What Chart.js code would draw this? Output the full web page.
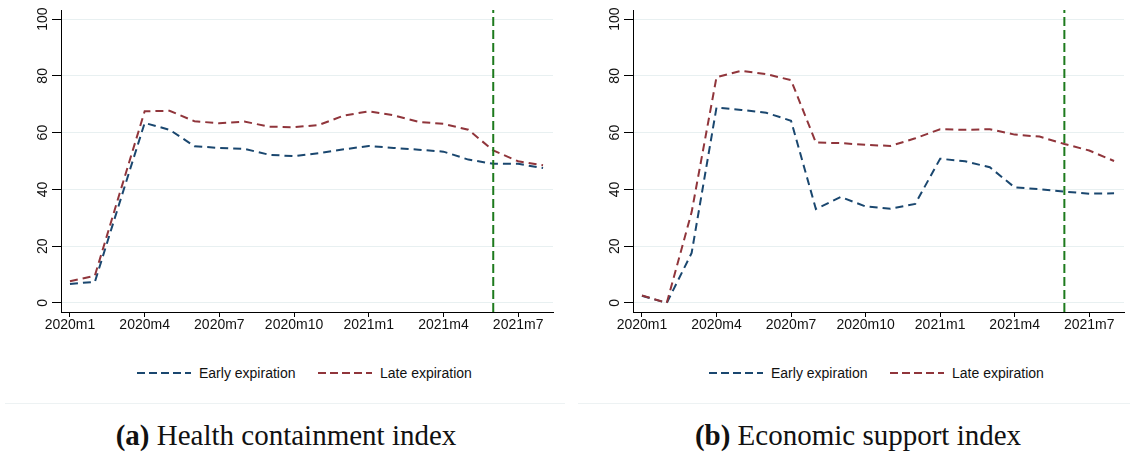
<!DOCTYPE html>
<html>
<head>
<meta charset="utf-8">
<title>Expiration indices</title>
<script src="https://cdn.jsdelivr.net/npm/chart.js@4"></script>
<style>
  body { margin: 0; background: #fff; font-family: "Liberation Sans", Arial, sans-serif; }
  #page { position: relative; width: 1130px; height: 452px; overflow: hidden; }
  canvas { position: absolute; top: 0; }
  .leg { position: absolute; top: 365px; height: 16px; line-height: 16px; font-size: 14px; color: #111; white-space: nowrap; }
  .leg svg { position: absolute; top: 0; }
  .sep { position: absolute; top: 403px; height: 1px; background: #edf2f3; }
  .cap { position: absolute; top: 421px; width: 400px; text-align: center; font-family: "Liberation Serif", "Times New Roman", serif; font-size: 29px; line-height: 29px; color: #111; white-space: nowrap; }
</style>
</head>
<body>
<div id="page">
  <canvas id="health" width="565" height="340" style="left:0"></canvas>
  <canvas id="econ" width="558" height="340" style="left:572px"></canvas>

  <svg class="leg" style="left:137px" width="54" height="16"><line x1="0" y1="8" x2="54" y2="8" stroke="#1a476f" stroke-width="2" stroke-dasharray="8,4"/></svg>
  <div class="leg" style="left:199px">Early expiration</div>
  <svg class="leg" style="left:318px" width="54" height="16"><line x1="0" y1="8" x2="54" y2="8" stroke="#90353b" stroke-width="2" stroke-dasharray="8,4"/></svg>
  <div class="leg" style="left:380px">Late expiration</div>

  <svg class="leg" style="left:709px" width="54" height="16"><line x1="0" y1="8" x2="54" y2="8" stroke="#1a476f" stroke-width="2" stroke-dasharray="8,4"/></svg>
  <div class="leg" style="left:771px">Early expiration</div>
  <svg class="leg" style="left:890px" width="54" height="16"><line x1="0" y1="8" x2="54" y2="8" stroke="#90353b" stroke-width="2" stroke-dasharray="8,4"/></svg>
  <div class="leg" style="left:952px">Late expiration</div>

  <div class="sep" style="left:5px; width:560px"></div>
  <div class="sep" style="left:578px; width:552px"></div>

  <div class="cap" style="left:86px"><b>(a)</b> Health containment index</div>
  <div class="cap" style="left:658px"><b>(b)</b> Economic support index</div>
</div>
<script>
const months = ['2020m1','2020m2','2020m3','2020m4','2020m5','2020m6','2020m7','2020m8','2020m9','2020m10',
  '2020m11','2020m12','2021m1','2021m2','2021m3','2021m4','2021m5','2021m6','2021m7','2021m8'];
const xTicks = [0, 3, 6, 9, 12, 15, 18];
const yTicks = [0, 20, 40, 60, 80, 100];
const cutoff = 17; // 2021m6

const healthEarly = [6.7, 7.4, 35.5, 63.4, 61.0, 55.2, 54.6, 54.3, 52.2, 51.7, 52.8, 54.1, 55.3, 54.6, 54.0, 53.3, 50.5, 49.0, 49.0, 47.5];
const healthLate  = [7.6, 9.6, 38.7, 67.5, 67.7, 64.0, 63.3, 63.9, 62.1, 61.9, 62.7, 66.0, 67.5, 66.1, 63.8, 63.1, 61.0, 53.7, 49.9, 48.5];
const econEarly   = [2.5, 0.0, 17.6, 68.8, 68.0, 67.0, 64.2, 33.1, 37.3, 34.0, 33.2, 34.9, 50.8, 49.9, 47.8, 40.7, 40.1, 39.2, 38.5, 38.6];
const econLate    = [2.6, 0.0, 32.0, 79.5, 81.8, 80.6, 78.5, 56.5, 56.3, 55.7, 55.3, 58.0, 61.2, 61.0, 61.2, 59.3, 58.6, 56.0, 53.7, 50.0];

const yMin = -3.2, yMax = 103.2;
const font = { family: '"Liberation Sans", Arial, sans-serif', size: 14 };

// y labels in Stata style: rotated, reading upward
const yLabelPlugin = {
  id: 'yLabels',
  afterDraw(chart) {
    const ctx = chart.ctx, y = chart.scales.y;
    ctx.save();
    ctx.fillStyle = '#111';
    ctx.font = '14px ' + font.family;
    ctx.textAlign = 'center';
    ctx.textBaseline = 'middle';
    yTicks.forEach(v => {
      ctx.save();
      ctx.translate(y.left + 43, y.getPixelForValue(v));
      ctx.rotate(-Math.PI / 2);
      ctx.fillText(String(v), 0, 0);
      ctx.restore();
    });
    ctx.restore();
  }
};

function makeChart(id, early, late, rightPad) {
  const pts = arr => months.map((m, i) => ({ x: i, y: arr[i] }));
  new Chart(document.getElementById(id), {
    type: 'line',
    data: {
      datasets: [
        { label: 'Cutoff', data: [{ x: cutoff, y: yMin }, { x: cutoff, y: yMax }],
          borderColor: '#1d7a1d', borderWidth: 2, borderDash: [9, 4], pointRadius: 0, order: -1 },
        { label: 'Late expiration', data: pts(late), borderColor: '#90353b', borderWidth: 2,
          borderDash: [8, 5], pointRadius: 0, tension: 0, order: 0 },
        { label: 'Early expiration', data: pts(early), borderColor: '#1a476f', borderWidth: 2,
          borderDash: [8, 5], pointRadius: 0, tension: 0, order: 1 }
      ]
    },
    options: {
      responsive: false,
      animation: false,
      devicePixelRatio: 1,
      layout: { padding: { top: 10, right: rightPad, left: 0, bottom: 0 } },
      plugins: { legend: { display: false }, tooltip: { enabled: false } },
      scales: {
        x: {
          type: 'linear', min: -0.36, max: 19.4,
          afterBuildTicks: s => { s.ticks = xTicks.map(v => ({ value: v })); },
          afterFit: s => { s.height = 28; },
          grid: { drawOnChartArea: false, tickLength: 5, tickColor: '#000' },
          border: { color: '#000', width: 1 },
          ticks: { font, color: '#111', padding: 0, maxRotation: 0, autoSkip: false,
                   callback: v => months[v] }
        },
        y: {
          min: yMin, max: yMax,
          afterBuildTicks: s => { s.ticks = yTicks.map(v => ({ value: v })); },
          afterFit: s => { s.width = 61; },
          grid: { color: '#e8f0f1', tickColor: '#000', tickLength: 9 },
          border: { color: '#000', width: 1 },
          ticks: { display: false }
        }
      }
    },
    plugins: [yLabelPlugin]
  });
}

makeChart('health', healthEarly, healthLate, 12);
makeChart('econ', econEarly, econLate, 6);
</script>
</body>
</html>
